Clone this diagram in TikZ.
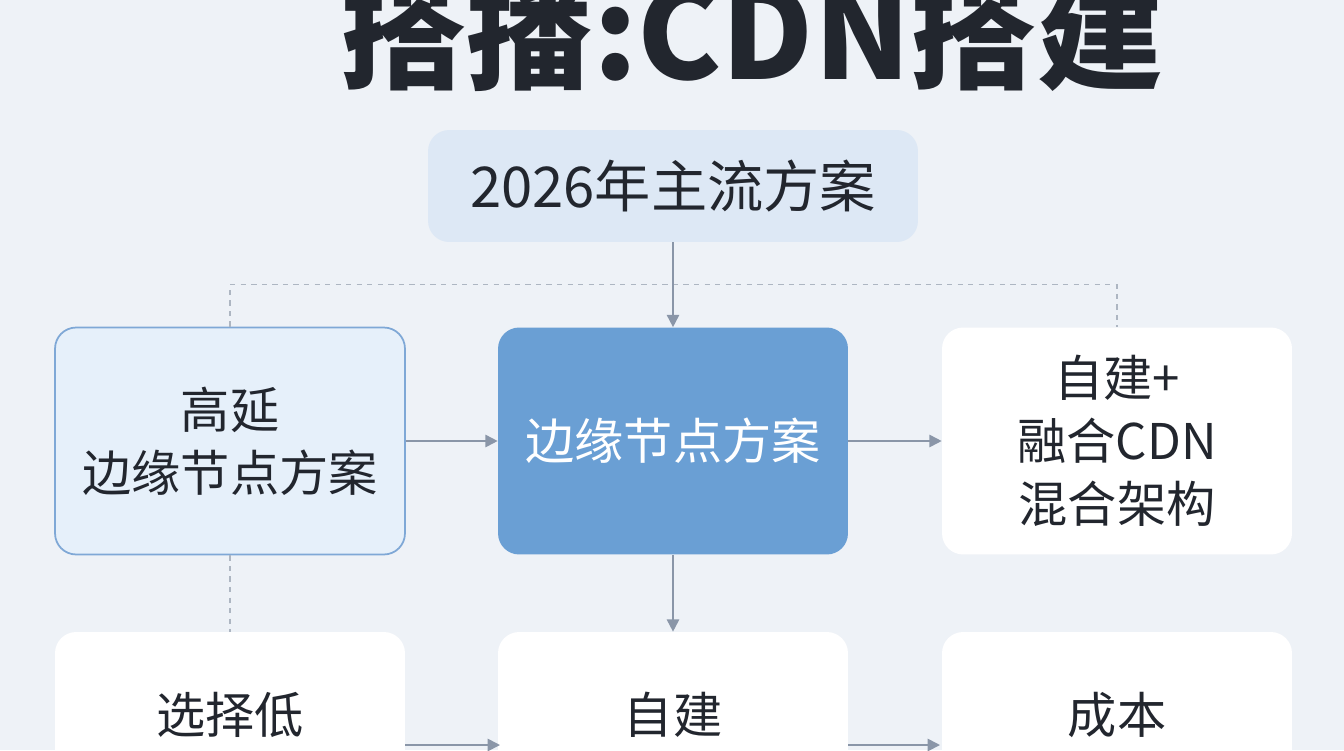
\documentclass[tikz,border=0pt]{standalone}
\usepackage{fontspec}
\setmainfont{Noto Sans CJK SC}
\usetikzlibrary{arrows.meta, positioning}
\definecolor{bgc}{HTML}{EEF2F7}
\definecolor{paleblue}{HTML}{DDE8F5}
\definecolor{lightblue}{HTML}{E6F0FA}
\definecolor{edgeblue}{HTML}{7FA8D6}
\definecolor{midblue}{HTML}{6A9FD4}
\definecolor{linegray}{HTML}{8A96A8}
\definecolor{ink}{HTML}{22262E}
\begin{document}
\begin{tikzpicture}[
    x=0.02cm, y=-0.02cm,
    box/.style={rounded corners=12pt, minimum width=7cm, minimum height=4.54cm, align=center, font=\fontsize{28}{36}\selectfont, text=ink},
    arrow/.style={-{Triangle[length=7pt,width=7pt]}, linegray, line width=1pt},
    dashline/.style={linegray!70, dashed, line width=0.8pt},
]
    \useasboundingbox (0,0) rectangle (1344,750);
    \clip (0,0) rectangle (1344,750);
    \fill[bgc] (0,0) rectangle (1344,750);

    % Title
    \node[font=\fontsize{72}{76}\bfseries\selectfont, text=ink] (title) at (752,32) {搭播:CDN搭建};

    % Top box
    \node[box, fill=paleblue, minimum width=9.8cm, minimum height=2.24cm, font=\fontsize{32}{36}\selectfont] (plan) at (673,186) {2026年主流方案};

    % Middle row
    \node[box, fill=lightblue, draw=edgeblue, line width=1pt] (high) at (230,441) {高延\\边缘节点方案};
    \node[box, fill=midblue, text=white] (edge) at (673,441) {边缘节点方案};
    \node[box, fill=white] (mix) at (1117,441) {自建+\\融合CDN\\混合架构};

    % Bottom row
    \node[box, fill=white, minimum height=5cm] (low) at (230,757) {};
    \node[box, fill=white, minimum height=5cm] (self) at (673,757) {};
    \node[box, fill=white, minimum height=5cm] (cost) at (1117,757) {};
    \node[font=\fontsize{28}{36}\selectfont, text=ink] at (230,715) {选择低};
    \node[font=\fontsize{28}{36}\selectfont, text=ink] at (673,715) {自建};
    \node[font=\fontsize{28}{36}\selectfont, text=ink] at (1117,715) {成本};

    % Connectors
    \draw[dashline] (high.north) -- ++(0,-42) -| (mix.north);
    \draw[arrow] (plan.south) -- (edge.north);
    \draw[arrow] (high.east) -- (edge.west);
    \draw[arrow] (edge.east) -- (mix.west);
    \draw[dashline] (high.south) -- (low.north);
    \draw[arrow] (edge.south) -- (self.north);
    \draw[arrow] (405,745) -- (500,745);
    \draw[arrow] (848,745) -- (940,745);
\end{tikzpicture}
\end{document}
